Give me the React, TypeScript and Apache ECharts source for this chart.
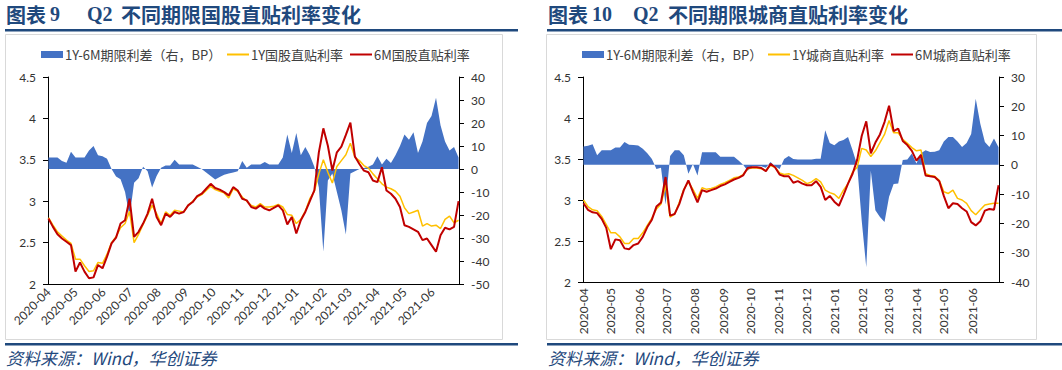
import React, { useEffect, useRef } from "react";
import * as echarts from "echarts";

const dates = [
  "2020-04-01","2020-04-06","2020-04-11","2020-04-16","2020-04-21","2020-04-26",
  "2020-05-01","2020-05-06","2020-05-11","2020-05-16","2020-05-21","2020-05-26","2020-05-31",
  "2020-06-05","2020-06-10","2020-06-15","2020-06-20","2020-06-25","2020-06-30",
  "2020-07-05","2020-07-10","2020-07-15","2020-07-20","2020-07-25","2020-07-30",
  "2020-08-04","2020-08-09","2020-08-14","2020-08-19","2020-08-24","2020-08-29",
  "2020-09-03","2020-09-08","2020-09-13","2020-09-18","2020-09-23","2020-09-28",
  "2020-10-03","2020-10-08","2020-10-13","2020-10-18","2020-10-23","2020-10-28",
  "2020-11-02","2020-11-07","2020-11-12","2020-11-17","2020-11-22","2020-11-27",
  "2020-12-02","2020-12-07","2020-12-12","2020-12-17","2020-12-22","2020-12-27",
  "2021-01-01","2021-01-06","2021-01-11","2021-01-16","2021-01-21","2021-01-26","2021-01-31",
  "2021-02-05","2021-02-10","2021-02-15","2021-02-20","2021-02-25",
  "2021-03-02","2021-03-07","2021-03-12","2021-03-17","2021-03-22","2021-03-27",
  "2021-04-01","2021-04-06","2021-04-11","2021-04-16","2021-04-21","2021-04-26",
  "2021-05-01","2021-05-06","2021-05-11","2021-05-16","2021-05-21","2021-05-26","2021-05-31",
  "2021-06-05","2021-06-10","2021-06-15","2021-06-20","2021-06-25","2021-06-30",
];

// Left chart: 国股
const spreadL = [
  5, 5, 5, 3.5, 2.7, 7.5, 5, 5, 5, 8, 10, 6, 5.5, 4.5, 0, -3.3, -4.5, -10, -20.8,
  -6, -4, 1, -1, -8, -3, 0.5, 1.5, 1.5, 4, 2, 2, 2, 2, 1, 0, -1.5, -3,
  -4.6, -3.5, -2.5, -2, -1.5, -1, 3.5, 0.5, 2, 2, 2, 3, 2, 2, 2, 5, 15, 7,
  15.7, 6, 9.6, 6, 1, -8, -36, -5, -2, -10, -18, -28.5, -2, -1, 0, 0.4, 1, 2,
  5.5, 2, 4.5, 2.6, 6, 10, 15, 12.7, 16, 7, 12, 20, 23, 31, 19, 12, 8, 9.6, 5,
];
const y1L = [
  2.8, 2.71, 2.63, 2.58, 2.53, 2.49, 2.3, 2.3, 2.22, 2.15, 2.16, 2.26, 2.25, 2.36, 2.5, 2.57, 2.68, 2.73, 2.88,
  2.5, 2.6, 2.72, 2.83, 2.95, 2.85, 2.73, 2.87, 2.83, 2.89, 2.88, 2.87, 2.95, 3.0, 3.05, 3.08, 3.13, 3.18,
  3.14, 3.12, 3.1, 3.04, 3.15, 3.12, 3.05, 3.0, 2.95, 2.93, 2.97, 2.93, 2.93, 2.94, 2.96, 2.93, 2.84, 2.83,
  2.73, 2.78, 2.88, 3.03, 3.12, 3.33, 3.5, 3.35, 3.22, 3.42, 3.49, 3.56, 3.7, 3.53, 3.49, 3.43, 3.4, 3.33,
  3.27, 3.21, 3.17, 3.15, 3.12, 3.06, 2.92, 2.85, 2.87, 2.89, 2.7, 2.73, 2.7, 2.71, 2.67, 2.78, 2.82, 2.74, 2.77,
];
const m6L = [
  2.79, 2.69, 2.6, 2.55, 2.51, 2.47, 2.15, 2.26, 2.15, 2.07, 2.08, 2.23, 2.19, 2.33, 2.49, 2.56, 2.73, 2.77, 3.03,
  2.57, 2.63, 2.73, 2.85, 3.03, 2.81, 2.71, 2.85, 2.81, 2.87, 2.85, 2.87, 2.95, 2.99, 3.06, 3.09, 3.15, 3.21,
  3.16, 3.14, 3.11, 3.07, 3.17, 3.13, 3.03, 3.01, 2.93, 2.91, 2.95, 2.91, 2.89, 2.92, 2.95, 2.89, 2.72, 2.81,
  2.61, 2.77, 2.87, 3.0, 3.13, 3.59, 3.88, 3.67, 3.37, 3.59, 3.66, 3.8, 3.95, 3.54, 3.45, 3.37, 3.35, 3.25,
  3.23, 3.41, 3.13, 3.09, 3.03, 2.93, 2.71, 2.69, 2.66, 2.63, 2.53, 2.55, 2.47, 2.39, 2.59, 2.68, 2.66, 2.69, 3.0,
];

// Right chart: 城商
const spreadR = [
  6.3, 6.5, 7, 3.3, 5, 5, 5, 5.9, 5.9, 7.8, 6.9, 6.8, 6.6, 5.5, 4, 2, -1.4, -1, -13.5,
  3, 5, 5, 3.3, -3, 0.3, -3.6, 4.3, 4.3, 4.3, 4.3, 2.8, 2.8, 2.8, 2.8, 1.5, 0, -2,
  -0.5, -0.5, -0.5, -1, 1, -0.5, -1.4, 2, 3, 2, 1.8, 1.8, 1.8, 1.8, 2.1, 2.1, 11.8, 7.5,
  6.7, 8, 8.5, 9.5, 5, 0, -19, -35, -2, -15.5, -17.8, -19.5, -10.9, -6.5, -6.4, 1.7, 1.8, 3.9,
  0.5, 4, 5, 4.4, 4.5, 5, 8, 9.5, 9.5, 8, 6.1, 7.5, 10.5, 22.6, 14, 7.8, 6.1, 9, 6,
];
const y1R = [
  3.0, 2.92, 2.88, 2.87, 2.8, 2.7, 2.6, 2.6, 2.55, 2.47, 2.47, 2.53, 2.53, 2.6, 2.69, 2.78, 2.89, 2.95, 3.18,
  2.79, 2.83, 2.97, 3.13, 3.22, 3.13, 3.02, 3.15, 3.13, 3.14, 3.16, 3.19, 3.21, 3.24, 3.27, 3.28, 3.31, 3.38,
  3.39, 3.39, 3.38, 3.36, 3.42, 3.4, 3.33, 3.31, 3.32, 3.3, 3.27, 3.24, 3.2, 3.22, 3.26, 3.22, 3.12, 3.09,
  3.07, 3.02, 3.12, 3.2, 3.34, 3.4, 3.63, 3.61, 3.53, 3.6, 3.7, 3.8, 3.97, 3.82, 3.82, 3.74, 3.69, 3.64,
  3.6, 3.61, 3.32, 3.3, 3.29, 3.24, 3.1, 3.08, 3.12, 3.02, 3.0, 2.96, 2.87, 2.82, 2.88, 2.94, 2.95, 2.96, 2.96,
];
const m6R = [
  2.96, 2.88, 2.85, 2.84, 2.77, 2.66, 2.4, 2.52, 2.51, 2.41, 2.4, 2.45, 2.47, 2.55, 2.67, 2.76, 2.92, 2.97, 3.28,
  2.81, 2.83, 2.95, 3.12, 3.24, 3.1, 2.97, 3.12, 3.1, 3.12, 3.14, 3.17, 3.19, 3.22, 3.25, 3.27, 3.3, 3.39,
  3.4, 3.4, 3.39, 3.35, 3.44, 3.4, 3.31, 3.29, 3.29, 3.21, 3.23, 3.2, 3.18, 3.18, 3.23, 3.16, 3.0, 3.05,
  2.98, 2.93, 3.06, 3.2, 3.32, 3.49, 3.78, 3.96, 3.57, 3.7, 3.8, 3.95, 4.15, 3.84, 3.87, 3.72, 3.67, 3.6,
  3.48, 3.55, 3.3, 3.29, 3.28, 3.23, 3.05, 2.9, 2.96, 2.95, 2.9, 2.86, 2.73, 2.69, 2.74, 2.87, 2.89, 2.88, 3.18,
];

const leftTicks = { min: 2, max: 4.5, interval: 0.5 };
const rightTicksL = { min: -50, max: 40, interval: 10 };
const rightTicksR = { min: -40, max: 30, interval: 10 };

const spreadName = "1Y-6M期限利差（右，BP）";
const namesL = ["1Y国股直贴利率", "6M国股直贴利率"];
const namesR = ["1Y城商直贴利率", "6M城商直贴利率"];

const BLUE = "#4472C4";
const YELLOW = "#FFC000";
const RED = "#C00000";
const NAVY = "#1F497D";
const NUM_FONT = "Lato, 'Noto Sans CJK SC', sans-serif";
const CJK_FONT = "'Noto Sans CJK SC', sans-serif";

const pairs = (vals: number[]) => vals.map((v, i) => [dates[i], v]);

const DAY = 24 * 3600 * 1000;

const monthLabel = (value: number) => {
  const d = new Date(value);
  if (d.getDate() !== 1) return "";
  return `${d.getFullYear()}-${String(d.getMonth() + 1).padStart(2, "0")}`;
};

function makeX(gridIndex: number, rotate: number) {
  return {
    type: "time",
    gridIndex,
    min: new Date(2020, 2, 31, 12).getTime(),
    max: new Date(2021, 5, 30, 12).getTime(),
    minInterval: 28 * DAY,
    maxInterval: 31 * DAY,
    splitLine: { show: false },
    axisTick: { show: false },
    axisLine: { onZero: false, lineStyle: { color: "#000", width: 1 } },
    axisLabel: {
      rotate,
      formatter: monthLabel,
      fontSize: 12,
      fontFamily: NUM_FONT,
      color: "#333",
      margin: 6,
      hideOverlap: false,
    },
  };
}

function makeY(gridIndex: number, position: string, t: { min: number; max: number; interval: number }) {
  return {
    type: "value",
    gridIndex,
    position,
    min: t.min,
    max: t.max,
    interval: t.interval,
    splitLine: { show: false },
    axisLine: { show: true, lineStyle: { color: "#000", width: 1 } },
    axisTick: { show: true, length: 5, lineStyle: { color: "#000" } },
    axisLabel: { fontSize: 12, fontFamily: NUM_FONT, color: "#333", margin: 12 },
  };
}

function makeSeries(xi: number, yLeft: number, yRight: number, spread: number[], y1: number[], m6: number[], names: string[]) {
  return [
    {
      name: spreadName,
      type: "line",
      xAxisIndex: xi,
      yAxisIndex: yRight,
      data: pairs(spread),
      symbol: "none",
      lineStyle: { width: 0, color: BLUE },
      itemStyle: { color: BLUE },
      areaStyle: { color: BLUE, opacity: 1 },
      z: 1,
    },
    {
      name: names[0],
      type: "line",
      xAxisIndex: xi,
      yAxisIndex: yLeft,
      data: pairs(y1),
      symbol: "none",
      lineStyle: { width: 1.5, color: YELLOW },
      itemStyle: { color: YELLOW },
      z: 2,
    },
    {
      name: names[1],
      type: "line",
      xAxisIndex: xi,
      yAxisIndex: yLeft,
      data: pairs(m6),
      symbol: "none",
      lineStyle: { width: 2, color: RED },
      itemStyle: { color: RED },
      z: 3,
    },
  ];
}

function legendItem(left: number, name: string, color: string, h: number) {
  return {
    left,
    top: 43,
    itemWidth: 22,
    itemHeight: h,
    selectedMode: false,
    icon: "rect",
    textStyle: { fontSize: 13, fontFamily: CJK_FONT, color: "#404040", padding: [0, 0, 0, -3] },
    data: [{ name, icon: "rect", itemStyle: { color } }],
  };
}

function titleParts(x0: number, num: string, numX: number, qX: number, restX: number, rest: string) {
  const base = { fill: NAVY, textVerticalAlign: "middle" };
  return [
    { type: "text", x: x0, y: 14, style: { ...base, text: "图表", font: `bold 20px ${CJK_FONT}` } },
    { type: "text", x: numX, y: 14, style: { ...base, text: num, font: "bold 20px 'Liberation Serif', serif" } },
    { type: "text", x: qX, y: 14, style: { ...base, text: "Q2", font: "bold 20px 'Liberation Serif', serif" } },
    { type: "text", x: restX, y: 14, style: { ...base, text: rest, font: `bold 20px ${CJK_FONT}` } },
  ];
}

export default function App() {
  const ref = useRef<HTMLDivElement>(null);
  useEffect(() => {
    if (!ref.current) return;
    const chart = echarts.init(ref.current, null, { renderer: "svg" });
    const option: any = {
      animation: false,
      backgroundColor: "#fff",
      grid: [
        { left: 48, top: 77, width: 411, height: 207 },
        { left: 583, top: 77, width: 416, height: 205 },
      ],
      legend: [
        legendItem(36, spreadName, BLUE, 7),
        legendItem(222, namesL[0], YELLOW, 2),
        legendItem(345, namesL[1], RED, 2),
        legendItem(577, spreadName, BLUE, 7),
        legendItem(763, namesR[0], YELLOW, 2),
        legendItem(886, namesR[1], RED, 2),
      ],
      xAxis: [makeX(0, 45), makeX(1, 90)],
      yAxis: [
        makeY(0, "left", leftTicks),
        makeY(0, "right", rightTicksL),
        makeY(1, "left", leftTicks),
        makeY(1, "right", rightTicksR),
      ],
      series: [
        ...makeSeries(0, 0, 1, spreadL, y1L, m6L, namesL),
        ...makeSeries(1, 2, 3, spreadR, y1R, m6R, namesR),
      ],
      graphic: [
        ...titleParts(6, "9", 50, 87, 121, "不同期限国股直贴利率变化"),
        ...titleParts(548, "10", 592, 633, 668, "不同期限城商直贴利率变化"),
        { type: "rect", shape: { x: 5, y: 29, width: 513, height: 2.5 }, style: { fill: NAVY } },
        { type: "rect", shape: { x: 547, y: 29, width: 515, height: 2.5 }, style: { fill: NAVY } },
        { type: "rect", shape: { x: 5.5, y: 34.5, width: 497, height: 305 }, style: { fill: "none", stroke: "#D9D9D9", lineWidth: 1 } },
        { type: "rect", shape: { x: 546.5, y: 34.5, width: 490, height: 305 }, style: { fill: "none", stroke: "#D9D9D9", lineWidth: 1 } },
        { type: "rect", shape: { x: 5, y: 343, width: 513, height: 2.5 }, style: { fill: NAVY } },
        { type: "rect", shape: { x: 547, y: 343, width: 515, height: 2.5 }, style: { fill: NAVY } },
        { type: "text", x: 6, y: 357, style: { text: "资料来源：Wind，华创证券", fill: NAVY, textVerticalAlign: "middle", font: `italic 17px ${CJK_FONT}` } },
        { type: "text", x: 548, y: 357, style: { text: "资料来源：Wind，华创证券", fill: NAVY, textVerticalAlign: "middle", font: `italic 17px ${CJK_FONT}` } },
      ],
    };
    chart.setOption(option);
    return () => chart.dispose();
  }, []);
  return (
    <div
      ref={ref}
      style={{ position: "absolute", left: 0, top: 0, width: 1062, height: 370, background: "#fff" }}
    />
  );
}
